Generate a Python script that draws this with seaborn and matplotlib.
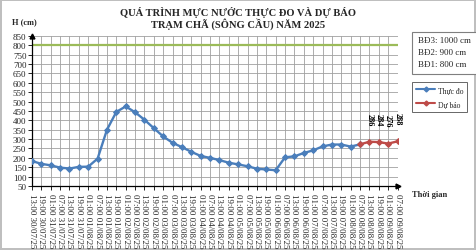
import matplotlib
matplotlib.use("Agg")
import matplotlib.pyplot as plt
import seaborn as sns
import pandas as pd
from matplotlib.patches import Rectangle
from matplotlib.lines import Line2D

# ---------------- data ----------------
time_labels = [
    "13:00 30/07/25", "19:00 30/07/25", "01:00 31/07/25", "07:00 31/07/25",
    "13:00 31/07/25", "19:00 31/07/25", "01:00 01/08/25", "07:00 01/08/25",
    "13:00 01/08/25", "19:00 01/08/25", "01:00 02/08/25", "07:00 02/08/25",
    "13:00 02/08/25", "19:00 02/08/25", "01:00 03/08/25", "07:00 03/08/25",
    "13:00 03/08/25", "19:00 03/08/25", "01:00 04/08/25", "07:00 04/08/25",
    "13:00 04/08/25", "19:00 04/08/25", "01:00 05/08/25", "07:00 05/08/25",
    "13:00 05/08/25", "19:00 05/08/25", "01:00 06/08/25", "07:00 06/08/25",
    "13:00 06/08/25", "19:00 06/08/25", "01:00 07/08/25", "07:00 07/08/25",
    "13:00 07/08/25", "19:00 07/08/25", "01:00 08/08/25", "07:00 08/08/25",
    "13:00 08/08/25", "19:00 08/08/25", "01:00 09/08/25", "07:00 09/08/25",
]
observed = [183, 168, 160, 148, 143, 152, 153, 196, 350, 445, 474, 443,
            403, 358, 314, 280, 257, 232, 210, 200, 188, 174, 165, 155,
            142, 138, 134, 203, 208, 226, 240, 261, 271, 271, 260, 272]
forecast_times = ["07:00 08/08/25", "13:00 08/08/25", "19:00 08/08/25",
                  "01:00 09/08/25", "07:00 09/08/25"]
forecast = [272, 286, 284, 276, 288]
forecast_labelled = [False, True, True, True, True]
alarm_names = ["BĐ3", "BĐ2", "BĐ1"]
alarm_values = [1000, 900, 800]

# ---------------- style ----------------
sns.set_theme(style="white")
plt.rcParams["font.family"] = ["Liberation Serif", "DejaVu Serif"]

BLUE = "#4A7EBB"
RED = "#BE4B48"
GREEN = "#9BBB59"

fig = plt.figure(figsize=(4.76, 2.51), dpi=100)
fig.patch.set_facecolor("white")
fig.patch.set_edgecolor("#BFBFBF")
fig.patch.set_linewidth(1.5)
ax = fig.add_axes([0.0672, 0.255, 0.768, 0.598])

pos = {t: i for i, t in enumerate(time_labels)}
df_obs = pd.DataFrame({"x": [pos[t] for t in time_labels[:len(observed)]],
                       "h": observed})
df_fc = pd.DataFrame({"x": [pos[t] for t in forecast_times], "h": forecast})

# alarm level line (BĐ1 = 800 cm visible)
ax.axhline(alarm_values[2], color=GREEN, lw=1.6, zorder=2)

sns.lineplot(data=df_obs, x="x", y="h", ax=ax, color=BLUE, lw=1.7,
             marker="D", markersize=3, markeredgecolor=BLUE, zorder=3)
sns.lineplot(data=df_fc, x="x", y="h", ax=ax, color=RED, lw=1.7,
             marker="D", markersize=3, markeredgecolor=RED, zorder=4)

for x, v, lab in zip(df_fc["x"], df_fc["h"], forecast_labelled):
    if lab:
        ax.annotate(str(v), (x, v), xytext=(0, 12), textcoords="offset points",
                    rotation=270, ha="center", va="bottom", fontsize=6,
                    fontweight="bold", color="black")

ax.set_xlim(0, len(time_labels) - 1)
ax.set_ylim(50, 850)
ax.set_yticks(range(50, 851, 50))
ax.set_xticks(range(len(time_labels)))
ax.set_xticklabels(time_labels, rotation=270, fontsize=6.4, color="#222222")
ax.tick_params(axis="y", labelsize=6.5, pad=1)
ax.tick_params(axis="x", pad=2)
ax.tick_params(direction="out", length=3, width=0.6, color="black",
               left=True, bottom=True)
ax.grid(True, color="#A0A0A0", lw=0.6)
ax.set_axisbelow(True)
ax.set_xlabel("")
ax.set_ylabel("")
for s in ["top", "right"]:
    ax.spines[s].set_visible(False)
for s in ["left", "bottom"]:
    ax.spines[s].set_color("black")
    ax.spines[s].set_linewidth(0.9)

# axis arrows
ax.plot([0], [1.0], marker="^", color="black", markersize=3.5,
        transform=ax.transAxes, clip_on=False)
ax.plot([1.0], [0], marker=">", color="black", markersize=3.5,
        transform=ax.transAxes, clip_on=False)

# titles
fig.text(0.50, 0.952, "QUÁ TRÌNH MỰC NƯỚC THỰC ĐO VÀ DỰ BÁO", ha="center",
         va="center", fontsize=7.6, fontweight="bold")
fig.text(0.50, 0.905, "TRẠM CHÃ (SÔNG CẦU) NĂM 2025", ha="center",
         va="center", fontsize=7.6, fontweight="bold")
fig.text(0.026, 0.910, "H (cm)", ha="left", va="center", fontsize=6,
         fontweight="bold")
fig.text(0.866, 0.222, "Thời gian", ha="left", va="center", fontsize=6,
         fontweight="bold")

# alarm level box
fig.patches.append(Rectangle((0.866, 0.70), 0.16, 0.168, transform=fig.transFigure,
                             facecolor="white", edgecolor="#7F7F7F", lw=0.8))
for i, (n, v) in enumerate(zip(alarm_names, alarm_values)):
    fig.text(0.878, 0.835 - i * 0.047, f"{n}: {v} cm", ha="left", va="center",
             fontsize=6.5)

# series legend
handles = [Line2D([], [], color=BLUE, lw=1.5, marker="D", markersize=2.5),
           Line2D([], [], color=RED, lw=1.5, marker="D", markersize=2.5)]
leg = fig.legend(handles, ["Thực đo", "Dự báo"], loc="upper left",
                 bbox_to_anchor=(0.857, 0.685), fontsize=5.5, frameon=True,
                 fancybox=False, edgecolor="#404040", handlelength=2.6,
                 handletextpad=0.3, borderpad=0.5, labelspacing=0.8)
leg.get_frame().set_linewidth(0.7)

fig.savefig("out.png", dpi=100)
